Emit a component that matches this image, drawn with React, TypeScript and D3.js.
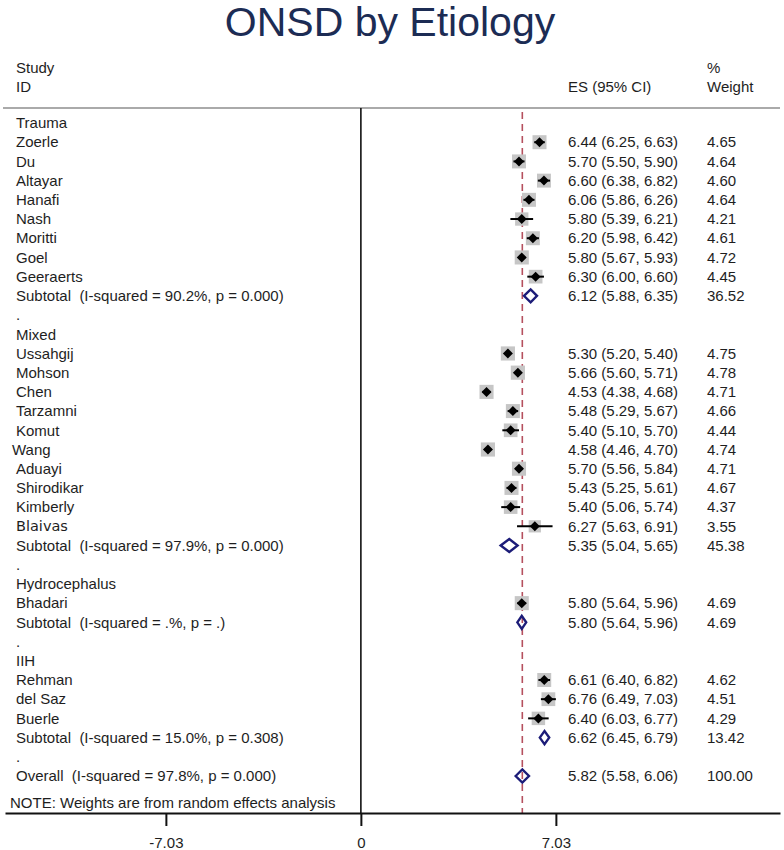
import React, { useEffect, useRef } from "react";
import * as d3 from "d3";

const groupNames = ["Trauma", "Mixed", "Hydrocephalus", "IIH"];

const studyNames = [
  "Zoerle", "Du", "Altayar", "Hanafi", "Nash", "Moritti", "Goel", "Geeraerts",
  "Ussahgij", "Mohson", "Chen", "Tarzamni", "Komut", "Wang", "Aduayi", "Shirodikar", "Kimberly", "Blaivas",
  "Bhadari",
  "Rehman", "del Saz", "Buerle",
];
const studyGroup = [0, 0, 0, 0, 0, 0, 0, 0, 1, 1, 1, 1, 1, 1, 1, 1, 1, 1, 2, 3, 3, 3];
const studyES = [6.44, 5.7, 6.6, 6.06, 5.8, 6.2, 5.8, 6.3, 5.3, 5.66, 4.53, 5.48, 5.4, 4.58, 5.7, 5.43, 5.4, 6.27, 5.8, 6.61, 6.76, 6.4];
const studyLow = [6.25, 5.5, 6.38, 5.86, 5.39, 5.98, 5.67, 6.0, 5.2, 5.6, 4.38, 5.29, 5.1, 4.46, 5.56, 5.25, 5.06, 5.63, 5.64, 6.4, 6.49, 6.03];
const studyHigh = [6.63, 5.9, 6.82, 6.26, 6.21, 6.42, 5.93, 6.6, 5.4, 5.71, 4.68, 5.67, 5.7, 4.7, 5.84, 5.61, 5.74, 6.91, 5.96, 6.82, 7.03, 6.77];
const studyWeight = [4.65, 4.64, 4.6, 4.64, 4.21, 4.61, 4.72, 4.45, 4.75, 4.78, 4.71, 4.66, 4.44, 4.74, 4.71, 4.67, 4.37, 3.55, 4.69, 4.62, 4.51, 4.29];

const subtotalLabels = [
  "Subtotal  (I-squared = 90.2%, p = 0.000)",
  "Subtotal  (I-squared = 97.9%, p = 0.000)",
  "Subtotal  (I-squared = .%, p = .)",
  "Subtotal  (I-squared = 15.0%, p = 0.308)",
];
const subtotalES = [6.12, 5.35, 5.8, 6.62];
const subtotalLow = [5.88, 5.04, 5.64, 6.45];
const subtotalHigh = [6.35, 5.65, 5.96, 6.79];
const subtotalWeight = [36.52, 45.38, 4.69, 13.42];

const overallLabel = "Overall  (I-squared = 97.8%, p = 0.000)";
const overallES = 5.82;
const overallLow = 5.58;
const overallHigh = 6.06;
const overallWeight = 100.0;

const tickValues = [-7.03, 0, 7.03];
const tickLabels = ["-7.03", "0", "7.03"];

const W = 784;
const H = 850;
const FONT = "'Liberation Sans', Arial, sans-serif";
const TEXT = "#1e1e1e";
const NAVY = "#1c1c78";

type Row = {
  kind: "group" | "study" | "subtotal" | "blank" | "overall";
  label: string;
  es?: number;
  lo?: number;
  hi?: number;
  w?: number;
};

// build the row list, in display order
const rows: Row[] = [];
groupNames.forEach((g, gi) => {
  rows.push({ kind: "group", label: g });
  studyNames.forEach((s, i) => {
    if (studyGroup[i] !== gi) return;
    rows.push({ kind: "study", label: s, es: studyES[i], lo: studyLow[i], hi: studyHigh[i], w: studyWeight[i] });
  });
  rows.push({
    kind: "subtotal", label: subtotalLabels[gi],
    es: subtotalES[gi], lo: subtotalLow[gi], hi: subtotalHigh[gi], w: subtotalWeight[gi],
  });
  rows.push({ kind: "blank", label: "." });
});
rows.push({ kind: "overall", label: overallLabel, es: overallES, lo: overallLow, hi: overallHigh, w: overallWeight });

const f2 = d3.format(".2f");

export default function App() {
  const axisRef = useRef<SVGGElement>(null);

  const x = d3.scaleLinear().domain([-12.83, 15.11]).range([5, 780]);
  const y = d3.scaleLinear().domain([0, rows.length - 1]).range([123, 776]);
  const boxSide = d3.scaleSqrt().domain([0, 4.65]).range([0, 14]);

  const plotTop = 108;
  const axisY = 813;

  useEffect(() => {
    const g = d3.select(axisRef.current);
    g.selectAll("*").remove();
    const axis = d3
      .axisBottom(x)
      .tickValues(tickValues)
      .tickFormat((d, i) => tickLabels[i])
      .tickSize(13)
      .tickSizeOuter(0)
      .tickPadding(11);
    g.call(axis as any);
    g.select(".domain").attr("stroke", "#111").attr("stroke-width", 2);
    g.selectAll(".tick line").attr("stroke", "#111").attr("stroke-width", 2);
    g.selectAll(".tick text")
      .attr("fill", TEXT)
      .style("font-family", FONT)
      .style("font-size", "15px");
  }, []);

  const diamond = (cx: number, cy: number, r: number) =>
    `M${cx - r},${cy}L${cx},${cy - r}L${cx + r},${cy}L${cx},${cy + r}Z`;

  return (
    <div style={{ position: "absolute", left: 0, top: 0 }}>
      <svg width={W} height={H} style={{ display: "block", background: "#fff" }}>
        <text x={390} y={36} textAnchor="middle" fill="#1c2c54" style={{ fontFamily: FONT, fontSize: 41 }}>
          ONSD by Etiology
        </text>

        {/* column headers */}
        <g style={{ fontFamily: FONT, fontSize: 15 }} fill={TEXT}>
          <text x={16} y={73}>Study</text>
          <text x={16} y={92}>ID</text>
          <text x={568} y={92}>ES (95% CI)</text>
          <text x={707} y={73}>%</text>
          <text x={707} y={92}>Weight</text>
        </g>

        <line x1={3} x2={780} y1={plotTop} y2={plotTop} stroke="#aaa" strokeWidth={2} />

        {/* null line */}
        <line x1={x(0)} x2={x(0)} y1={plotTop} y2={axisY} stroke="#111" strokeWidth={1.6} />

        {/* overall effect line */}
        <line
          x1={x(overallES)} x2={x(overallES)} y1={plotTop + 4} y2={axisY}
          stroke="#b5505e" strokeWidth={1.6} strokeDasharray="7,5"
        />

        {rows.map((r, i) => {
          const cy = y(i);
          const isWang = r.label === "Wang";
          const isBlaivas = r.label === "Blaivas";
          return (
            <g key={i}>
              <text
                x={isWang ? 12 : 16}
                y={cy}
                dy="0.35em"
                fill={TEXT}
                style={{
                  fontFamily: isBlaivas ? "'DejaVu Sans', sans-serif" : FONT,
                  fontSize: isBlaivas ? 14.5 : 15,
                  whiteSpace: "pre",
                }}
              >
                {r.label}
              </text>
              {r.kind === "study" && (
                <g>
                  <rect
                    x={x(r.es!) - boxSide(r.w!) / 2}
                    y={cy - boxSide(r.w!) / 2}
                    width={boxSide(r.w!)}
                    height={boxSide(r.w!)}
                    fill="#c6c6c6"
                  />
                  <line x1={x(r.lo!)} x2={x(r.hi!)} y1={cy} y2={cy} stroke="#000" strokeWidth={2} />
                  <path d={diamond(x(r.es!), cy, 5)} fill="#000" />
                </g>
              )}
              {(r.kind === "subtotal" || r.kind === "overall") && (
                <path
                  d={`M${x(r.lo!)},${cy}L${x(r.es!)},${cy - 6.5}L${x(r.hi!)},${cy}L${x(r.es!)},${cy + 6.5}Z`}
                  fill="none"
                  stroke={NAVY}
                  strokeWidth={2.4}
                />
              )}
              {r.es !== undefined && (
                <g style={{ fontFamily: FONT, fontSize: 15 }} fill={TEXT}>
                  <text x={568} y={cy} dy="0.35em">
                    {`${f2(r.es)} (${f2(r.lo!)}, ${f2(r.hi!)})`}
                  </text>
                  <text x={707} y={cy} dy="0.35em">{f2(r.w!)}</text>
                </g>
              )}
            </g>
          );
        })}

        <text x={10} y={808} fill={TEXT} style={{ fontFamily: FONT, fontSize: 15 }}>
          NOTE: Weights are from random effects analysis
        </text>

        <g ref={axisRef} transform={`translate(0,${axisY})`} />
      </svg>
    </div>
  );
}
